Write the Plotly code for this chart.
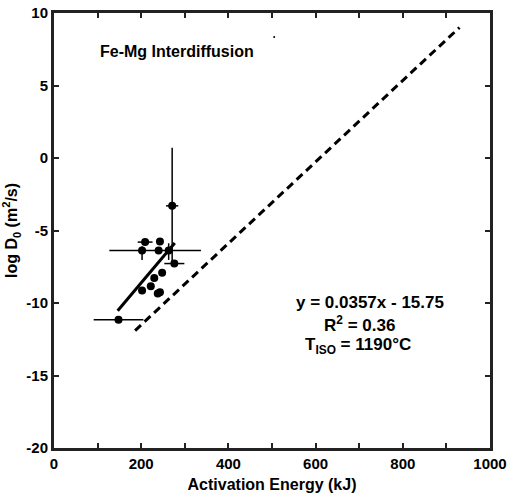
import plotly.graph_objects as go

# Data points: activation energy (kJ), log D0, and error bars
energy = [148, 271, 209, 243, 202, 240, 263, 276, 248, 230, 222, 202, 238, 243]
logd0 = [-11.15, -3.3, -5.8, -5.75, -6.38, -6.38, -6.38, -7.28, -7.92, -8.27, -8.85, -9.14, -9.35, -9.25]
ex_plus = [57, 14, 17, 0, 0, 97, 0, 23, 0, 0, 0, 0, 0, 0]
ex_minus = [57, 14, 17, 0, 0, 113, 0, 23, 0, 0, 0, 0, 0, 0]
ey_plus = [0, 4.0, 0, 0, 0.3, 0, 0.5, 0, 0, 0, 0, 0, 0, 0]
ey_minus = [0, 3.9, 0, 0, 0.66, 0, 0.65, 0, 0, 0, 0, 0, 0, 0]

# Regression line y = 0.0357x - 15.75 over data span
fit_x = [146, 277]
slope, intercept = 0.0357, -15.75
fit_y = [slope * v + intercept for v in fit_x]

# Dashed reference line endpoints
dash_x = [186, 930]
dash_y = [-11.9, 9.0]

# stray dot
dot_x = [505]
dot_y = [8.34]

# Tick labels
x_ticks = [0, 200, 400, 600, 800, 1000]
x_labels = ["0", "200", "400", "600", "800", "1000"]
y_ticks = [10, 5, 0, -5, -10, -15, -20]
y_labels = ["10", "5", "0", "-5", "-10", "-15", "-20"]

FONT = "Liberation Sans"

fig = go.Figure()
fig.add_trace(go.Scatter(x=dash_x, y=dash_y, mode="lines",
                         line=dict(color="black", width=3, dash="8px,5px"),
                         showlegend=False, hoverinfo="skip"))
fig.add_trace(go.Scatter(x=fit_x, y=fit_y, mode="lines",
                         line=dict(color="black", width=3),
                         showlegend=False, hoverinfo="skip"))
fig.add_trace(go.Scatter(
    x=energy, y=logd0, mode="markers",
    marker=dict(color="black", size=8),
    error_x=dict(type="data", symmetric=False, array=ex_plus, arrayminus=ex_minus,
                 color="black", thickness=1.5, width=0),
    error_y=dict(type="data", symmetric=False, array=ey_plus, arrayminus=ey_minus,
                 color="black", thickness=1.5, width=0),
    showlegend=False))
fig.add_trace(go.Scatter(x=dot_x, y=dot_y, mode="markers",
                         marker=dict(color="black", size=2), showlegend=False))

axis_common = dict(showline=True, linecolor="#222", linewidth=3, mirror="allticks",
                   ticks="inside", ticklen=5, tickwidth=1.5, tickcolor="#222",
                   showgrid=False, zeroline=False, automargin=False,
                   tickfont=dict(family=FONT, size=15, color="black"))

fig.update_xaxes(range=[0, 1000], tickvals=x_ticks,
                 ticktext=["<b>%s</b>" % t for t in x_labels],
                 minor=dict(dtick=100, ticks="inside", ticklen=5, tickwidth=1.5, tickcolor="#222"),
                 title=dict(text="<b>Activation Energy (kJ)</b>", standoff=8,
                            font=dict(family=FONT, size=16, color="black")),
                 **axis_common)
fig.update_yaxes(range=[-20, 10], tickvals=y_ticks,
                 ticktext=["<b>%s</b>" % t for t in y_labels],
                 title=dict(text="<b>log D<sub>0</sub> (m<sup>2</sup>/s)</b>", standoff=5,
                            font=dict(family=FONT, size=16, color="black")),
                 **axis_common)

ann_font = dict(family=FONT, size=17, color="black")
fig.add_annotation(x=283, y=7.37, text="<b>Fe-Mg Interdiffusion</b>", showarrow=False,
                   font=dict(family=FONT, size=16, color="black"),
                   xanchor="center", yanchor="middle")
fig.add_annotation(x=725, y=-9.95, text="<b>y = 0.0357x - 15.75</b>", showarrow=False,
                   font=ann_font, xanchor="center", yanchor="middle")
fig.add_annotation(x=700, y=-11.45, text="<b>R<sup>2</sup> = 0.36</b>", showarrow=False,
                   font=ann_font, xanchor="center", yanchor="middle")
fig.add_annotation(x=697, y=-12.95, text="<b>T<sub>ISO</sub> = 1190°C</b>", showarrow=False,
                   font=ann_font, xanchor="center", yanchor="middle")

fig.update_layout(width=507, height=497, plot_bgcolor="white", paper_bgcolor="white",
                  margin=dict(l=54, r=17, t=13, b=49), showlegend=False)

fig.write_html("out.html")
